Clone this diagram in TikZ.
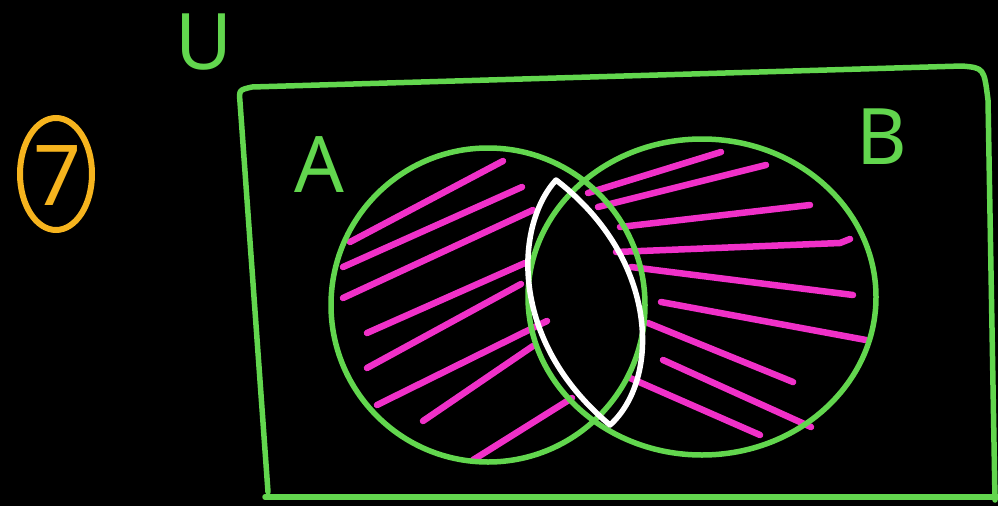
\documentclass[tikz,border=0pt]{standalone}
\usepackage{fontspec}
\setmainfont{Noto Sans}
\definecolor{chalkgreen}{RGB}{98,214,78}
\definecolor{chalkpink}{RGB}{240,48,200}
\definecolor{chalkorange}{RGB}{246,180,30}
\begin{document}
\begin{tikzpicture}[x=1pt,y=-1pt,
  greenline/.style={draw=chalkgreen,line width=5.5pt,line cap=round,line join=round},
  hatch/.style={draw=chalkpink,line width=6.5pt,line cap=round},
  lensline/.style={draw=white,line width=5.5pt,line cap=round,line join=round},
  lbl/.style={text=chalkgreen,font=\fontsize{78}{78}\selectfont,inner sep=0pt}]
\fill[black] (0,0) rectangle (998,506);
\useasboundingbox (0,0) rectangle (998,506);
% label 7
\draw[draw=chalkorange,line width=6pt] (56,174) ellipse [x radius=36, y radius=56];
\node[text=chalkorange,font=\fontsize{84}{84}\selectfont,inner sep=0pt] (seven) at (58,176) {7};
% universe
\path[greenline] (268,492) -- (240,102) .. controls (239,90) .. (252,87) -- (962,66) .. controls (984,68) .. (988,100) -- (995,500);
\path[greenline] (265,497) -- (998,497);
\node[lbl] (U) at (204,42) {U};
\node[lbl] (A) at (319,165) {A};
\node[lbl] (B) at (882,137) {B};
% hatching in A
\path[hatch] (350,242) -- (503,161);
\path[hatch] (343,267) -- (522,187);
\path[hatch] (343,298) -- (533,210);
\path[hatch] (367,333) -- (525,263);
\path[hatch] (367,368) -- (521,284);
\path[hatch] (377,405) -- (547,321);
\path[hatch] (423,421) -- (533,346);
\path[hatch] (473,460) -- (572,398);
% hatching in B
\path[hatch] (588,193) -- (721,152);
\path[hatch] (598,207) -- (766,165);
\path[hatch] (620,227) -- (810,205);
\path[hatch] (616,252) -- (840,243) -- (850,239);
\path[hatch] (631,267) -- (853,295);
\path[hatch] (661,302) -- (866,340);
\path[hatch] (648,323) -- (793,382);
\path[hatch] (663,360) -- (811,427);
\path[hatch] (630,378) -- (760,435);
% circles
\draw[greenline] (488,305) ellipse [x radius=157, y radius=157];
\draw[greenline] (702,297) ellipse [x radius=174, y radius=158];
% intersection lens
\path[lensline] (556,180) .. controls (515,225) and (508,340) .. (610,425) .. controls (660,380) and (660,260) .. (556,180) -- cycle;
\end{tikzpicture}
\end{document}
